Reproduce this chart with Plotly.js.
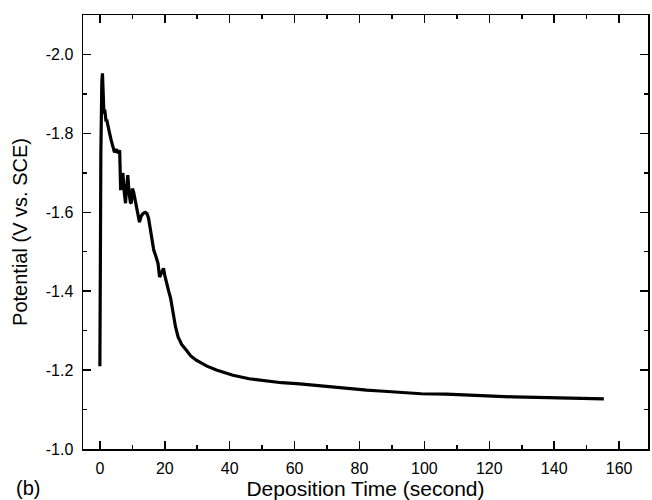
<!DOCTYPE html>
<html>
<head>
<meta charset="utf-8">
<script src="https://cdn.plot.ly/plotly-3.0.1.min.js"></script>
<style>html,body{margin:0;padding:0;background:#fff;}#plot{width:652px;height:500px;}</style>
</head>
<body>
<div id="plot"></div>
<script>
// Deposition time (s)
var timeSec = [0, 0.1, 0.2, 0.3, 0.45, 0.6, 0.8, 0.95, 1.1, 1.25, 1.5, 1.9, 2.1, 2.5, 3.0, 3.5, 4.0, 4.5, 5.0, 5.6, 6.1, 6.3, 6.4, 6.6, 7.1, 7.4, 7.9, 8.2, 8.6, 9.0, 9.4, 9.7, 10.0, 10.4, 10.9, 11.4, 11.8, 12.2, 12.7, 13.3, 14.0, 14.5, 15.0, 15.5, 16.0, 16.6, 17.2, 17.9, 18.4, 19.0, 19.6, 20.0, 20.5, 21.2, 21.8, 22.5, 23.3, 24.1, 25.2, 26.6, 28.0, 29.7, 30.8, 33.0, 35.9, 38.5, 41.0, 46.0, 51.3, 56.0, 61.6, 66.5, 71.9, 77.0, 82.2, 86.3, 92.4, 99.0, 106.8, 117.0, 127.4, 138.0, 148.0, 155.3];
// Potential (V vs. SCE)
var potential = [-1.21, -1.30, -1.55, -1.75, -1.88, -1.93, -1.952, -1.92, -1.87, -1.85, -1.86, -1.83, -1.835, -1.815, -1.80, -1.782, -1.77, -1.752, -1.76, -1.75, -1.757, -1.70, -1.656, -1.69, -1.699, -1.66, -1.623, -1.66, -1.694, -1.65, -1.625, -1.623, -1.66, -1.651, -1.63, -1.613, -1.60, -1.575, -1.59, -1.597, -1.60, -1.597, -1.585, -1.562, -1.535, -1.504, -1.49, -1.471, -1.436, -1.445, -1.458, -1.44, -1.42, -1.40, -1.382, -1.345, -1.31, -1.284, -1.265, -1.251, -1.236, -1.225, -1.220, -1.210, -1.200, -1.193, -1.187, -1.178, -1.172, -1.168, -1.165, -1.161, -1.157, -1.153, -1.149, -1.147, -1.143, -1.140, -1.139, -1.135, -1.132, -1.130, -1.129, -1.127];

var xTickVals = [0, 20, 40, 60, 80, 100, 120, 140, 160];
var xTickText = ["0", "20", "40", "60", "80", "100", "120", "140", "160"];
var yTickVals = [-2.0, -1.8, -1.6, -1.4, -1.2, -1.0];
var yTickText = ["-2.0", "-1.8", "-1.6", "-1.4", "-1.2", "-1.0"];

var FONT = 'Liberation Sans, Arial, sans-serif';

var trace = {
  x: timeSec,
  y: potential,
  type: 'scatter',
  mode: 'lines',
  line: {color: '#000', width: 3.2},
  hoverinfo: 'skip'
};

var axisCommon = {
  showline: true, linecolor: '#000', linewidth: 1.5,
  mirror: 'ticks', ticks: 'inside', ticklen: 8, tickwidth: 1.5, tickcolor: '#000',
  showgrid: false, zeroline: false, automargin: false,
  tickfont: {family: FONT, size: 16, color: '#000'}
};

var layout = {
  width: 652, height: 500,
  margin: {l: 83, r: 4, t: 15, b: 51},
  paper_bgcolor: '#fff', plot_bgcolor: '#fff',
  showlegend: false,
  xaxis: Object.assign({}, axisCommon, {
    range: [-5.2, 168.9],
    tickmode: 'array', tickvals: xTickVals, ticktext: xTickText,
    ticklabelstandoff: 4,
    minor: {dtick: 10, tick0: 0, ticks: 'inside', ticklen: 4, tickwidth: 1.5, tickcolor: '#000', showgrid: false},
    title: {text: 'Deposition Time (second)', font: {family: FONT, size: 21, color: '#000'}, standoff: 2}
  }),
  yaxis: Object.assign({}, axisCommon, {
    range: [-1.0, -2.1],
    tickmode: 'array', tickvals: yTickVals, ticktext: yTickText,
    ticklabelstandoff: 5,
    minor: {dtick: 0.1, tick0: 0, ticks: 'inside', ticklen: 4, tickwidth: 1.5, tickcolor: '#000', showgrid: false},
    title: {text: 'Potential (V vs. SCE)', font: {family: FONT, size: 20, color: '#000'}, standoff: 12}
  }),
  annotations: [{
    text: '(b)', xref: 'paper', yref: 'paper', x: -0.122, y: -0.09,
    xanchor: 'left', yanchor: 'middle', showarrow: false,
    font: {family: FONT, size: 20, color: '#000'}
  }]
};

Plotly.newPlot('plot', [trace], layout, {staticPlot: true, displayModeBar: false});
</script>
</body>
</html>
